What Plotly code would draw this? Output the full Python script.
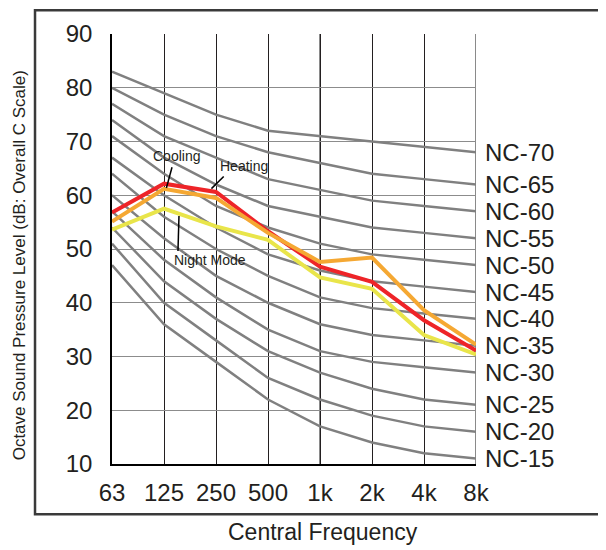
import plotly.graph_objects as go

freq_labels = ["63", "125", "250", "500", "1k", "2k", "4k", "8k"]
x_idx = list(range(len(freq_labels)))

nc_names = ["NC-15", "NC-20", "NC-25", "NC-30", "NC-35", "NC-40",
            "NC-45", "NC-50", "NC-55", "NC-60", "NC-65", "NC-70"]
nc_15 = [47, 36, 29, 22, 17, 14, 12, 11]
nc_20 = [51, 40, 33, 26, 22, 19, 17, 16]
nc_25 = [54, 44, 37, 31, 27, 24, 22, 21]
nc_30 = [57, 48, 41, 35, 31, 29, 28, 27]
nc_35 = [60, 52, 45, 40, 36, 34, 33, 32]
nc_40 = [64, 56, 50, 45, 41, 39, 38, 37]
nc_45 = [67, 60, 54, 49, 46, 44, 43, 42]
nc_50 = [71, 64, 58, 54, 51, 49, 48, 47]
nc_55 = [74, 67, 62, 58, 56, 54, 53, 52]
nc_60 = [77, 71, 67, 63, 61, 59, 58, 57]
nc_65 = [80, 75, 71, 68, 66, 64, 63, 62]
nc_70 = [83, 79, 75, 72, 71, 70, 69, 68]
nc_curves = [nc_15, nc_20, nc_25, nc_30, nc_35, nc_40,
             nc_45, nc_50, nc_55, nc_60, nc_65, nc_70]

cooling = [55.1, 61.2, 59.5, 53.0, 47.6, 48.4, 38.6, 32.2]
heating = [56.8, 62.15, 60.6, 53.3, 46.7, 43.9, 36.75, 31.1]
night_mode = [53.6, 57.5, 54.2, 51.7, 44.7, 42.6, 34.0, 30.4]

y_ticks = [10, 20, 30, 40, 50, 60, 70, 80, 90]

FONT = "Liberation Sans, Arial, sans-serif"
TXT = "#231F20"

fig = go.Figure()

for name, vals in zip(nc_names, nc_curves):
    fig.add_trace(go.Scatter(x=x_idx, y=vals, mode="lines", name=name,
                             line=dict(color="#808080", width=2.5),
                             showlegend=False, hoverinfo="skip"))

fig.add_trace(go.Scatter(x=x_idx, y=night_mode, mode="lines", name="Night Mode",
                         line=dict(color="#E9E54A", width=4), showlegend=False))
fig.add_trace(go.Scatter(x=x_idx, y=heating, mode="lines", name="Heating",
                         line=dict(color="#EE2428", width=4), showlegend=False))
fig.add_trace(go.Scatter(x=x_idx, y=cooling, mode="lines", name="Cooling",
                         line=dict(color="#F5A833", width=4), showlegend=False))

annotations = []
for name, vals in zip(nc_names, nc_curves):
    annotations.append(dict(x=x_idx[-1], y=vals[-1], xref="x", yref="y",
                            text=name, showarrow=False, xanchor="left",
                            yanchor="middle", xshift=7,
                            font=dict(family=FONT, size=24, color=TXT)))

# series labels
annotations += [
    dict(x=1.231, y=67.35, xref="x", yref="y", text="Cooling", showarrow=False,
         font=dict(family=FONT, size=14, color=TXT)),
    dict(x=2.538, y=65.5, xref="x", yref="y", text="Heating", showarrow=False,
         font=dict(family=FONT, size=14, color=TXT)),
    dict(x=1.885, y=47.95, xref="x", yref="y", text="Night Mode", showarrow=False,
         font=dict(family=FONT, size=14, color=TXT)),
]

# axis titles
annotations += [
    dict(x=0.580, y=-0.1576, xref="paper", yref="paper", text="Central Frequency",
         showarrow=False, xanchor="center", yanchor="middle",
         font=dict(family=FONT, size=23, color=TXT)),
    dict(x=-0.2555, y=0.462, xref="paper", yref="paper",
         text="Octave Sound Pressure Level (dB: Overall C Scale)",
         showarrow=False, textangle=-90, xanchor="center", yanchor="middle",
         font=dict(family=FONT, size=17, color=TXT)),
]

shapes = [
    # outer frame
    dict(type="rect", xref="paper", yref="paper", x0=-0.2115, x1=1.37,
         y0=-0.117, y1=1.055, line=dict(color="#3a3a3a", width=2.5),
         layer="below"),
    # lighter grid lines at 1k and 8k
    dict(type="line", xref="x", yref="paper", x0=4, x1=4, y0=0, y1=1,
         line=dict(color="#8a8a8a", width=2), layer="below"),
    dict(type="line", xref="x", yref="paper", x0=7, x1=7, y0=0, y1=1,
         line=dict(color="#8a8a8a", width=2), layer="below"),
    # pointer lines
    dict(type="line", xref="x", yref="y", x0=1.154, y0=65.2, x1=1.046, y1=61.36,
         line=dict(color="#000000", width=1.5)),
    dict(type="line", xref="x", yref="y", x0=2.148, y0=63.49, x1=1.912, y1=61.23,
         line=dict(color="#000000", width=1.5)),
    dict(type="line", xref="x", yref="y", x0=1.288, y0=56.14, x1=1.269, y1=49.61,
         line=dict(color="#000000", width=1.5)),
]

fig.update_layout(
    width=598, height=542,
    margin=dict(l=104, r=130, t=20, b=86),
    paper_bgcolor="white", plot_bgcolor="white",
    font=dict(family=FONT, color=TXT),
    annotations=annotations, shapes=shapes,
    xaxis=dict(range=[0, 7], tickmode="array", tickvals=x_idx, ticktext=freq_labels,
               showgrid=True, gridcolor="#231F20", gridwidth=1, zeroline=False,
               showline=True, linecolor="#000000", linewidth=1.5,
               tickfont=dict(family=FONT, size=24, color=TXT),
               ticks="", ticklabelstandoff=6, fixedrange=True),
    yaxis=dict(range=[10, 90], tickmode="array", tickvals=y_ticks,
               showgrid=True, gridcolor="#8c8c8c", gridwidth=1, zeroline=False,
               showline=True, linecolor="#000000", linewidth=1.5,
               tickfont=dict(family=FONT, size=24, color=TXT),
               ticks="", ticklabelstandoff=13, fixedrange=True),
)

fig.write_html("out.html")
